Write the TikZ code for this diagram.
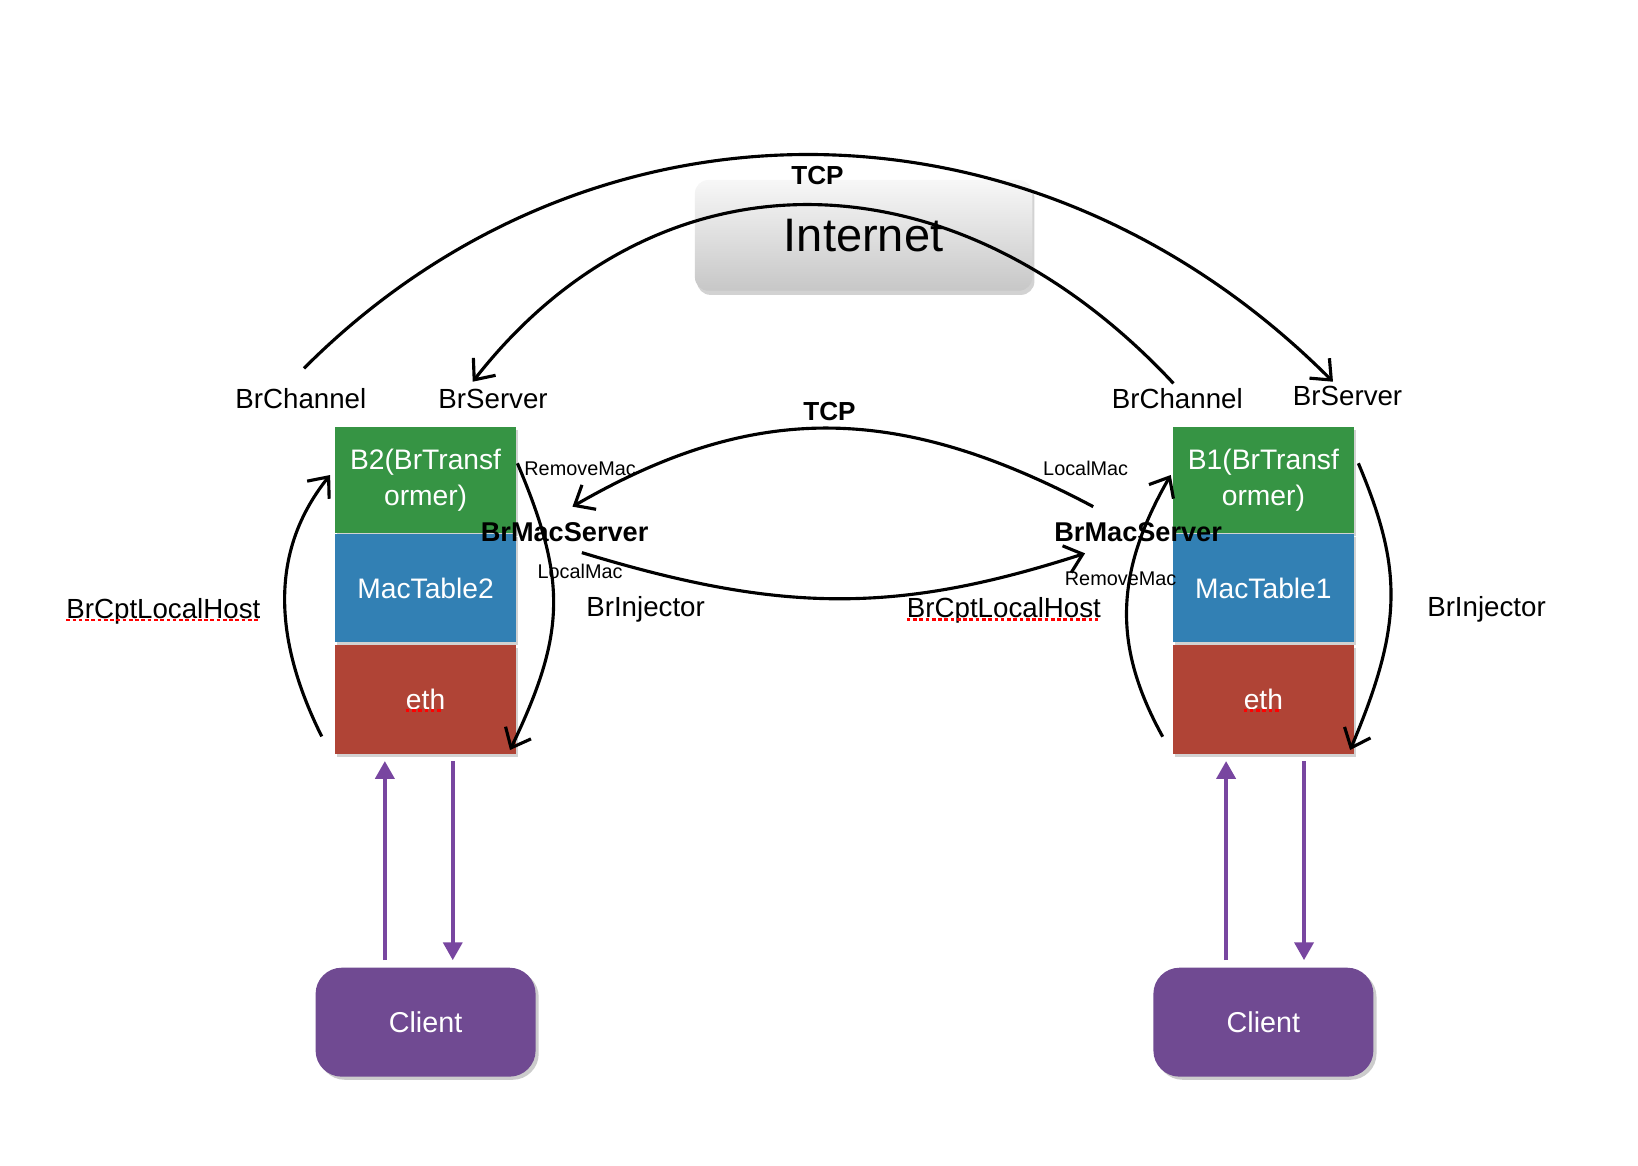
\documentclass[tikz,border=0pt]{standalone}
\usepackage{fontspec}
\setmainfont{Liberation Sans}
\usetikzlibrary{positioning, arrows.meta, shadows}
\definecolor{layergreen}{RGB}{54,148,68}
\definecolor{layerblue}{RGB}{50,128,180}
\definecolor{layerred}{RGB}{176,68,54}
\definecolor{clientpurple}{RGB}{112,74,146}
\definecolor{flowpurple}{RGB}{120,70,160}
\tikzstyle{Arrow} = [line width=3pt, -{Straight Barb[length=16pt, width=27pt]}]
\tikzstyle{Flow} = [line width=3.8pt, draw=flowpurple, -{Triangle[length=17pt, width=18pt]},
shorten >= 7pt, shorten <= 7pt]
\tikzstyle{Layer} = [rectangle, minimum width=173.5pt, minimum height=104pt, inner sep=0pt,
text=white, align=center, font=\fontsize{27}{34}\selectfont,
drop shadow={opacity=0.35, shadow xshift=2pt, shadow yshift=-3pt}]
\tikzstyle{Cloud} = [rectangle, rounded corners=13pt, minimum width=323pt, minimum height=106pt,
top color=white!97!black, bottom color=black!22, font=\fontsize{45}{50}\selectfont,
drop shadow={opacity=0.35, shadow xshift=2pt, shadow yshift=-4pt}]
\tikzstyle{Client} = [rectangle, rounded corners=25pt, minimum width=210.6pt, minimum height=104.3pt,
fill=clientpurple, text=white, font=\fontsize{27.5}{32}\selectfont,
drop shadow={opacity=0.4, shadow xshift=3pt, shadow yshift=-3pt}]
\tikzstyle{Label} = [inner sep=0pt, anchor=base, font=\fontsize{26.5}{30}\selectfont]
\tikzstyle{Small} = [inner sep=0pt, anchor=base, font=\fontsize{19}{22}\selectfont]
\tikzstyle{Bold} = [inner sep=0pt, anchor=base, font=\bfseries\fontsize{26}{30}\selectfont]
\tikzstyle{Typo} = [draw=red, line width=2.6pt, dash pattern=on 3.5pt off 2.5pt]

\begin{document}
\begin{tikzpicture}[x=1pt, y=-1pt]
    \useasboundingbox[fill=white] (0,0) rectangle (1568,1116);
    \node (net) [Cloud] at (826.7,225.3) {Internet};
    % left bridge
    \node (b2) [Layer, fill=layergreen, minimum height=102pt] at (407.4,459.5) {\raisebox{-4pt}{B2(BrTransf}\\\raisebox{-4pt}{ormer)}};
    \node [below =0pt of b2, Layer, fill=layerblue] (mac2) {MacTable2};
    \node [below =2pt of mac2, Layer, fill=layerred] (eth2) {eth};
    \node (cl2) [Client] at (407.4,978.5) {Client};
    % right bridge
    \node (b1) [Layer, fill=layergreen, minimum height=102pt] at (1209.4,459.5) {\raisebox{-4pt}{B1(BrTransf}\\\raisebox{-4pt}{ormer)}};
    \node [below =0pt of b1, Layer, fill=layerblue] (mac1) {MacTable1};
    \node [below =2pt of mac1, Layer, fill=layerred] (eth1) {eth};
    \node (cl1) [Client] at (1209.4,978.5) {Client};
    % labels
    \node (chan2) [Label] at (288,390.8) {BrChannel};
    \node (serv2) [Label] at (472,391.5) {BrServer};
    \node (chan1) [Label] at (1127,391.5) {BrChannel};
    \node (serv1) [Label] at (1290,388.5) {BrServer};
    \node (inj2) [Label] at (618,590.5) {BrInjector};
    \node (inj1) [Label] at (1423,590.5) {BrInjector};
    \node (host2) [Label] at (156.4,591.9) {BrCptLocalHost};
    \node (host1) [Label] at (961,591.5) {BrCptLocalHost};
    \node (tcp1) [Bold, font=\bfseries\fontsize{25}{30}\selectfont] at (782.6,176.5) {TCP};
    \node (tcp2) [Bold, font=\bfseries\fontsize{25}{30}\selectfont] at (794,403) {TCP};
    \node (macsrv2) [Bold] at (540.5,518.5) {BrMacServer};
    \node (macsrv1) [Bold] at (1089.5,518.5) {BrMacServer};
    \node (rm2) [Small] at (555.3,455.1) {RemoveMac};
    \node (lm1) [Small] at (1039.3,455.1) {LocalMac};
    \node (lm2) [Small] at (555.3,554.1) {LocalMac};
    \node (rm1) [Small] at (1072.7,560.4) {RemoveMac};
    % arc ends
    \coordinate (outS) at (291,352.6);
    \coordinate (outE) at (1276,365.4);
    \coordinate (inS) at (1123.3,367);
    \coordinate (inE) at (452.5,365.4);
    \coordinate (midS) at (1046.5,485);
    \coordinate (midE) at (548,485);
    \coordinate (lowS) at (557,529);
    \coordinate (lowE) at (1038.7,529.7);
    \coordinate (up2S) at (308,705);
    \coordinate (up2E) at (316,454.7);
    \coordinate (dn2S) at (495.3,443.5);
    \coordinate (dn2E) at (488.2,718);
    \coordinate (up1S) at (1113,705.2);
    \coordinate (up1E) at (1120.7,454.7);
    \coordinate (dn1S) at (1300.3,443.5);
    \coordinate (dn1E) at (1292.4,718);
    \draw[Arrow] (outS) .. controls (565,78) and (989,78) .. (outE);
    \draw[Arrow] (inS) .. controls (911,139.5) and (629,139.5) .. (inE);
    \draw[Arrow] (midS) .. controls (858,385) and (721,385) .. (midE);
    \draw[Arrow] (lowS) .. controls (749,587.6) and (859,587.6) .. (lowE);
    \draw[Arrow] (up2S) .. controls (259.7,608) and (259.7,525) .. (up2E);
    \draw[Arrow] (dn2S) .. controls (542.4,555) and (542.4,605) .. (dn2E);
    \draw[Arrow] (up1S) .. controls (1065.9,620) and (1065.9,550) .. (up1E);
    \draw[Arrow] (dn1S) .. controls (1343,545) and (1343,598) .. (dn1E);
    % client links
    \draw[Flow] ([xshift=-39pt]cl2.north) -- ([xshift=-39pt]eth2.south);
    \draw[Flow] ([xshift=26pt]eth2.south) -- ([xshift=26pt]cl2.north);
    \draw[Flow] ([xshift=-35.7pt]cl1.north) -- ([xshift=-35.7pt]eth1.south);
    \draw[Flow] ([xshift=38.9pt]eth1.south) -- ([xshift=38.9pt]cl1.north);
    % spelling marks
    \draw[Typo] ([yshift=-1.5pt]host2.base west) -- ([yshift=-1.5pt]host2.base east);
    \draw[Typo] ([yshift=-1.5pt]host1.base west) -- ([yshift=-1.5pt]host1.base east);
    \draw[Typo] ([xshift=-19pt,yshift=-11pt]eth2.center) -- ([xshift=16pt,yshift=-11pt]eth2.center);
    \draw[Typo] ([xshift=-19pt,yshift=-11pt]eth1.center) -- ([xshift=16pt,yshift=-11pt]eth1.center);
\end{tikzpicture}
\end{document}
